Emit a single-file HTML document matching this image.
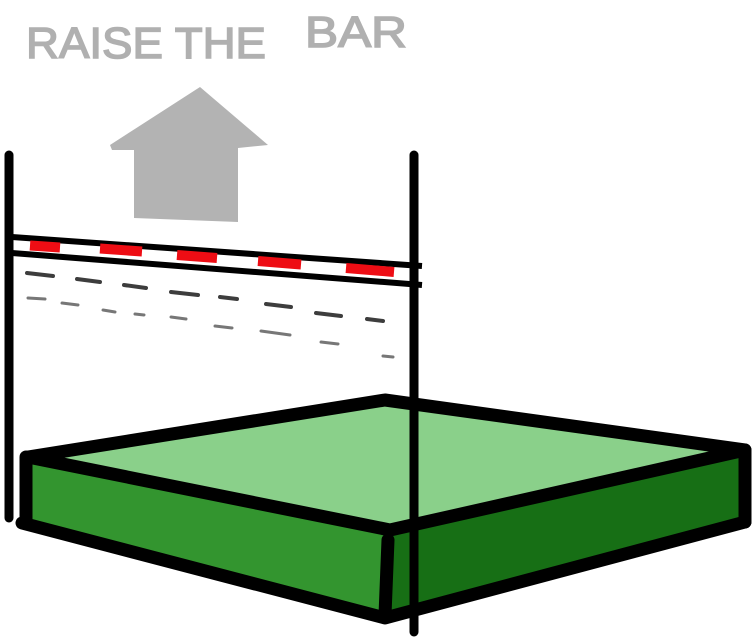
<!DOCTYPE html>
<html><head><style>html,body{margin:0;padding:0;background:#fff}svg{display:block}</style></head>
<body>
<svg width="754" height="638" viewBox="0 0 754 638" xmlns="http://www.w3.org/2000/svg">
<text x="26" y="58" font-family="Liberation Sans, sans-serif" font-size="44" fill="#b0b0b0" stroke="#b0b0b0" stroke-width="1.5" textLength="240" lengthAdjust="spacingAndGlyphs">RAISE THE</text>
<text x="305" y="47" font-family="Liberation Sans, sans-serif" font-size="44" fill="#b0b0b0" stroke="#b0b0b0" stroke-width="1.5" textLength="102" lengthAdjust="spacingAndGlyphs">BAR</text>
<polygon points="110,145 200,87 268,145 238,148 238,222 134,218 134,150 112,150" fill="#b3b3b3"/>
<polygon points="30,457 385,400 740,450 390,530" fill="#8ad08a"/>
<polygon points="25,457 390,530 385,618 25,523" fill="#33952f"/>
<polygon points="390,530 745,450 745,522 385,618" fill="#176f15"/>
<g stroke="#000" stroke-width="13" stroke-linecap="round" stroke-linejoin="round" fill="none">
<polyline points="28,457 385,400 745,450 390,530 28,457"/>
<line x1="26" y1="457" x2="26" y2="523"/>
<line x1="745" y1="450" x2="745" y2="522"/>
<polyline points="22,523 385,618 745,522"/>
<line x1="388" y1="540" x2="385" y2="615"/>
</g>
<g stroke="#000" stroke-width="9" stroke-linecap="round">
<line x1="9" y1="155" x2="9" y2="518"/>
<line x1="414" y1="155" x2="414" y2="632"/>
</g>
<g stroke="#000" stroke-width="6">
<line x1="12" y1="237" x2="422" y2="266"/>
<line x1="12" y1="253" x2="422" y2="285"/>
</g>
<g stroke="#ee0d14" stroke-width="10">
<line x1="30" y1="245.5" x2="60" y2="247.5"/>
<line x1="100" y1="248.5" x2="142" y2="251.5"/>
<line x1="177" y1="255" x2="217" y2="258"/>
<line x1="258" y1="261" x2="301" y2="264.5"/>
<line x1="346" y1="268" x2="394" y2="272"/>
</g>
<g stroke="#3d3d3d" stroke-width="4" stroke-linecap="round">
<line x1="27" y1="273" x2="53" y2="276"/><line x1="77" y1="279" x2="100" y2="282"/>
<line x1="124" y1="285" x2="146" y2="288"/><line x1="171" y1="292" x2="198" y2="295"/>
<line x1="220" y1="297" x2="237" y2="299"/><line x1="266" y1="304" x2="291" y2="307"/>
<line x1="316" y1="313" x2="341" y2="316"/><line x1="367" y1="319" x2="383" y2="321"/>
</g>
<g stroke="#777" stroke-width="3" stroke-linecap="round">
<line x1="28" y1="298" x2="45" y2="299"/><line x1="62" y1="303" x2="78" y2="305"/>
<line x1="103" y1="310" x2="115" y2="312"/><line x1="135" y1="314" x2="144" y2="315"/>
<line x1="171" y1="317" x2="186" y2="319"/><line x1="215" y1="326" x2="232" y2="328"/>
<line x1="261" y1="331" x2="290" y2="335"/><line x1="321" y1="342" x2="338" y2="344"/>
<line x1="383" y1="356" x2="393" y2="357"/>
</g>
</svg>
</body></html>
